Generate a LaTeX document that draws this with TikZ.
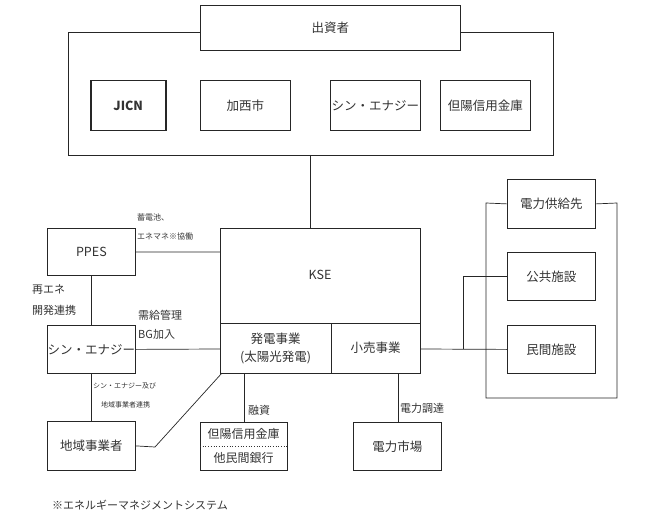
\documentclass[tikz,border=0pt]{standalone}
\usepackage{fontspec}
\setmainfont{Noto Sans CJK JP}
\begin{document}
\begin{tikzpicture}[x=1pt,y=-1pt,
 bx/.style={draw=black!85,line width=0.8pt,fill=white,inner sep=0pt,anchor=north west,text=black!80,font=\fontsize{12.5}{14}\selectfont},
 ln/.style={draw=black!85,line width=0.7pt},
 lb/.style={anchor=west,text=black!80,font=\fontsize{11}{12}\selectfont,inner sep=0pt},
 sm/.style={anchor=west,text=black!80,font=\fontsize{8}{9}\selectfont,inner sep=0pt}]
\useasboundingbox (0,0) rectangle (650,521);
\node[bx,minimum width=485pt,minimum height=123pt] (outer) at (68,32) {};
\node[bx,minimum width=260pt,minimum height=45pt] (inv) at (200,5) {出資者};
\node[bx,line width=1.5pt,minimum width=75pt,minimum height=50pt,font=\fontsize{12.5}{14}\selectfont\bfseries] (jicn) at (90,80) {JICN};
\node[bx,minimum width=90pt,minimum height=50pt] (kasai) at (200,80) {加西市};
\node[bx,minimum width=90pt,minimum height=50pt] (shin1) at (330,80) {シン・エナジー};
\node[bx,minimum width=90pt,minimum height=50pt] (tanyo1) at (440,80) {但陽信用金庫};
% KSE
\node[bx,minimum width=200pt,minimum height=145pt] (kse) at (220,228) {};
\node[text=black!80,font=\fontsize{12.5}{14}\selectfont] (kset) at (320,275) {KSE};
\coordinate (kdl) at (220,323); \coordinate (kdr) at (420,323);
\draw[ln] (kdl) -- (kdr);
\coordinate (kvt) at (331,323); \coordinate (kvb) at (331,373);
\draw[ln] (kvt) -- (kvb);
\node[text=black!80,font=\fontsize{12.5}{14}\selectfont,align=center] (gen) at (275.5,348) {発電事業\\[4pt](太陽光発電)};
\node[text=black!80,font=\fontsize{12.5}{14}\selectfont] (ret) at (375.5,348) {小売事業};
\coordinate (ob) at (310,155); \coordinate (kt) at (310,228);
\draw[ln] (ob) -- (kt);
% left
\node[bx,minimum width=88pt,minimum height=47pt] (ppes) at (47,228) {PPES};
\node[bx,minimum width=88pt,minimum height=48pt] (shin2) at (47,325) {シン・エナジー};
\node[bx,minimum width=88pt,minimum height=49pt] (chiiki) at (47,421) {地域事業者};
\coordinate (kl1) at (220,252); \coordinate (kl2) at (220,349);
\draw[ln] (ppes.east) -- (kl1);
\draw[ln] (shin2.east) -- (kl2);
\draw[ln] (ppes.south) -- (shin2.north);
\draw[ln] (shin2.south) -- (chiiki.north);
\coordinate (cb) at (155,447); \coordinate (kbl) at (222,373);
\draw[ln] (chiiki.east) -- (cb) -- (kbl);
\node[sm] (l1) at (137,217) {蓄電池、};
\node[sm] (l2) at (137,236) {エネマネ※協働};
\node[lb] (l3) at (32,290) {再エネ};
\node[lb] (l4) at (32,310) {開発連携};
\node[lb] (l5) at (138,315) {需給管理};
\node[lb] (l6) at (138,334) {BG加入};
\node[sm,font=\fontsize{7}{8}\selectfont] (l7) at (93,386) {シン・エナジー及び};
\node[sm,font=\fontsize{7}{8}\selectfont] (l8) at (101,405) {地域事業者連携};
% bottom
\node[bx,minimum width=87pt,minimum height=48pt] (bank) at (200,422) {};
\node[text=black!80,font=\fontsize{12}{13}\selectfont] (b1) at (243.5,434) {但陽信用金庫};
\node[text=black!80,font=\fontsize{12}{13}\selectfont] (b2) at (243.5,458) {他民間銀行};
\coordinate (bdl) at (200,446); \coordinate (bdr) at (287,446);
\draw[draw=black!80,line width=0.7pt,dotted] (bdl) -- (bdr);
\coordinate (gb) at (244,373);
\draw[ln] (gb) -- (bank.north -| gb);
\node[lb] (l9) at (248,410) {融資};
\node[bx,minimum width=88pt,minimum height=48pt] (mkt) at (353,422) {電力市場};
\coordinate (rb) at (398,373);
\draw[ln] (rb) -- (mkt.north -| rb);
\node[lb] (l10) at (400,408) {電力調達};
% right
\coordinate (o1) at (486,203); \coordinate (o2) at (617,203);
\coordinate (o3) at (617,398); \coordinate (o4) at (486,398);
\node[bx,minimum width=88pt,minimum height=49pt] (sup) at (507,179) {電力供給先};
\draw[ln] (sup.west) -- (o1) -- (o4) -- (o3) -- (o2) -- (sup.east);
\node[bx,minimum width=88pt,minimum height=48pt] (pub) at (507,252) {公共施設};
\node[bx,minimum width=88pt,minimum height=48pt] (priv) at (507,325) {民間施設};
\coordinate (rr) at (420,349); \coordinate (br) at (463,349);
\draw[ln] (rr) -- (priv.west);
\draw[ln] (br) |- (pub.west);
\node[anchor=west,text=black!80,font=\fontsize{11}{12}\selectfont,inner sep=0pt] (foot) at (52,505) {※エネルギーマネジメントシステム};
\end{tikzpicture}
\end{document}
